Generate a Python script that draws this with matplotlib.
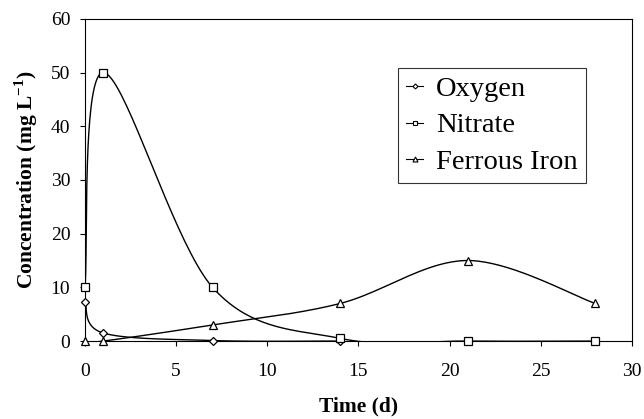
import numpy as np
import matplotlib.pyplot as plt
from matplotlib.lines import Line2D

# data
days_oxygen = [0, 1, 7, 14]
oxygen = [7.2, 1.5, 0.1, 0.0]

days = [0, 1, 7, 14, 21, 28]
nitrate = [10, 50, 10, 0.5, 0, 0]
ferrous = [0, 0, 3, 7, 15, 7]

plt.rcParams['font.family'] = ['Liberation Serif', 'DejaVu Serif']
plt.rcParams['mathtext.fontset'] = 'custom'
plt.rcParams['mathtext.rm'] = 'Liberation Serif'
plt.rcParams['mathtext.bf'] = 'Liberation Serif:bold'


def smooth(x, y, n=40):
    # Excel-style smoothed line: cubic Bezier through each point
    p = np.column_stack([x, y]).astype(float)
    p = np.vstack([p[0], p, p[-1]])
    t = np.linspace(0, 1, n)[:, None]
    segs = []
    for i in range(1, len(p) - 2):
        a, d = p[i], p[i + 1]
        b = a + (p[i + 1] - p[i - 1]) / 6
        c = d - (p[i + 2] - p[i]) / 6
        segs.append((1 - t) ** 3 * a + 3 * (1 - t) ** 2 * t * b
                    + 3 * (1 - t) * t ** 2 * c + t ** 3 * d)
    s = np.vstack(segs)
    return s[:, 0], s[:, 1]


fig = plt.figure(figsize=(6.44, 4.19), dpi=100)
ax = fig.add_axes([0.132, 0.186, 0.849, 0.769])

series = [
    (days_oxygen, oxygen, 'D', 4.2, 'Oxygen'),
    (days, nitrate, 's', 6, 'Nitrate'),
    (days, ferrous, '^', 6, 'Ferrous Iron'),
]
handles = []
for x, y, m, ms, name in series:
    sx, sy = smooth(x, y)
    ax.plot(sx, sy, color='black', lw=1.0, zorder=2)
    ax.plot(x, y, ls='none', marker=m, ms=ms, mfc='white', mec='black',
            mew=0.9, zorder=3, clip_on=False)
    handles.append(Line2D([], [], color='black', lw=0.8, marker=m,
                          ms=ms * 0.6, mfc='white', mec='black', mew=0.8,
                          label=name))

ax.set_xlim(0, 30)
ax.set_ylim(0, 60)
ax.set_xticks(range(0, 31, 5))
ax.set_yticks(range(0, 61, 10))
ax.tick_params(direction='out', length=3.6, width=0.8, labelsize=14)
ax.tick_params(axis='x', pad=12)
ax.tick_params(axis='y', pad=7)
for sp in ax.spines.values():
    sp.set_linewidth(0.8)

ax.set_xlabel('Time (d)', fontsize=15.5, fontweight='bold', labelpad=12)
ax.set_ylabel('Concentration (mg L$^{\\mathbf{-1}}$)', fontsize=15.5,
              fontweight='bold', labelpad=8)

leg = ax.legend(handles=handles, loc='upper left',
                bbox_to_anchor=(0.572, 0.848), fontsize=20.5, frameon=True,
                fancybox=False, edgecolor='black', handlelength=0.6,
                handletextpad=0.45, borderpad=0.3, labelspacing=0.36,
                borderaxespad=0)
leg.get_frame().set_linewidth(0.8)

fig.savefig('out.png', dpi=100)
